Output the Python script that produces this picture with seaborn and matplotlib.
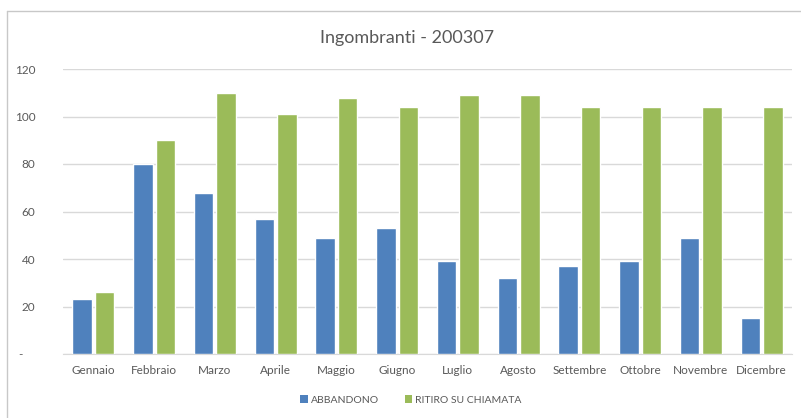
import pandas as pd
from matplotlib import pyplot as plt
from matplotlib.lines import Line2D
from matplotlib.patches import Patch
import seaborn as sns

# data
mesi = ['Gennaio', 'Febbraio', 'Marzo', 'Aprile', 'Maggio', 'Giugno',
        'Luglio', 'Agosto', 'Settembre', 'Ottobre', 'Novembre', 'Dicembre']
abbandono = [23, 80, 68, 57, 49, 53, 39, 32, 37, 39, 49, 15]
ritiro = [26, 90, 110, 101, 108, 104, 109, 109, 104, 104, 104, 104]
serie = ['ABBANDONO', 'RITIRO SU CHIAMATA']
y_ticks = [0, 20, 40, 60, 80, 100, 120]
y_labels = ['-    ', '20', '40', '60', '80', '100', '120']

df = pd.DataFrame({
    'mese': mesi * 2,
    'valore': abbandono + ritiro,
    'serie': [serie[0]] * len(mesi) + [serie[1]] * len(mesi),
})

sns.set_style('white')
plt.rcParams['font.family'] = ['Lato', 'DejaVu Sans']

text_col = '#595959'
grid_col = '#d9d9d9'
colori = {serie[0]: '#4f81bd', serie[1]: '#9bbb59'}

fig = plt.figure(figsize=(8.01, 4.18), dpi=100)
ax = fig.add_axes([63 / 801, 64 / 418, 729 / 801, 285 / 418])

sns.barplot(data=df, x='mese', y='valore', hue='serie', order=mesi,
            hue_order=serie, palette=colori, width=0.74, gap=0.14,
            saturation=1, ax=ax, legend=False, zorder=3)

ax.set_ylim(0, 120)
ax.set_xlim(-0.5, len(mesi) - 0.5)
ax.set_yticks(y_ticks)
ax.set_yticklabels(y_labels)
ax.yaxis.grid(True, color=grid_col, linewidth=1)
ax.set_axisbelow(True)
for s in ['top', 'right', 'left']:
    ax.spines[s].set_visible(False)
ax.spines['bottom'].set_color(grid_col)
ax.tick_params(axis='y', length=0, pad=20, labelsize=8.5, labelcolor=text_col)
ax.tick_params(axis='x', length=0, pad=8, labelsize=8.5, labelcolor=text_col)
ax.set_xlabel('')
ax.set_ylabel('')

fig.text(0.508, 0.91, 'Ingombranti - 200307', ha='center', va='center',
         fontsize=13, color=text_col)

handles = [Patch(facecolor=colori[s], edgecolor='none') for s in serie]
fig.legend(handles, serie, loc='center', bbox_to_anchor=(0.513, 0.043),
           ncol=2, frameon=False, fontsize=7.5, handlelength=0.7,
           handleheight=0.7, handletextpad=0.3, columnspacing=2.5,
           labelcolor=text_col)

# chart border (left and top edges visible in the reference)
fig.add_artist(Line2D([6.5 / 801, 6.5 / 801], [0, 1 - 10.5 / 418],
                      transform=fig.transFigure, color='#c8c8c8', linewidth=1))
fig.add_artist(Line2D([6.5 / 801, 1], [1 - 10.5 / 418, 1 - 10.5 / 418],
                      transform=fig.transFigure, color='#c8c8c8', linewidth=1))

fig.savefig('out.png', dpi=100)
